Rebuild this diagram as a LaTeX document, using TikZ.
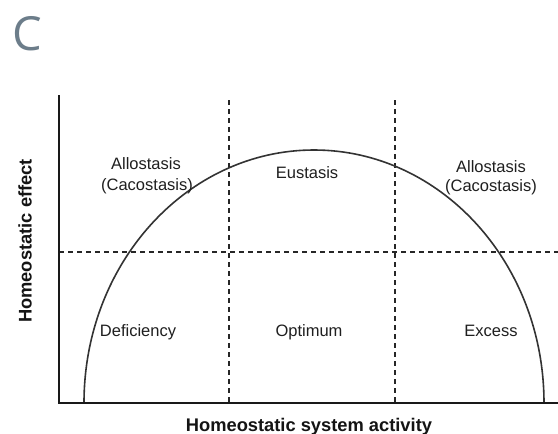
\documentclass[tikz,border=0pt]{standalone}
\usepackage{fontspec}
\setmainfont{Liberation Sans}
\newfontfamily\letterfont{Open Sans}
\begin{document}
\begin{tikzpicture}[x=1pt,y=-1pt,
  lbl/.style={anchor=base,inner sep=0pt,text=black!88,font=\fontsize{16.5}{20}\selectfont},
  axlbl/.style={anchor=base,inner sep=0pt,text=black!92,font=\fontsize{18.3}{22}\selectfont\bfseries},
  axisline/.style={line width=2.8pt,black!90},
  guide/.style={line width=1.4pt,black!85,dash pattern=on 5pt off 4pt},
  curveline/.style={line width=1.6pt,black!80}]
\useasboundingbox (0,0) rectangle (558,434);
\fill[white] (0,0) rectangle (558,434);
% panel letter
\node[anchor=base west,inner sep=0pt,text={rgb,255:red,108;green,125;blue,138},font=\fontsize{47}{50}\letterfont] (panel) at (12,50) {C};
% guides
\coordinate (v1t) at (229,100); \coordinate (v1b) at (229,403);
\coordinate (v2t) at (395,100); \coordinate (v2b) at (395,403);
\coordinate (hl) at (59,252); \coordinate (hr) at (558,252);
\draw[guide] (v1t) -- (v1b);
\draw[guide] (v2t) -- (v2b);
\draw[guide] (hl) -- (hr);
% curve
\draw[curveline] (84,403) arc[start angle=180,end angle=0,x radius=230pt,y radius=253pt];
% axes
\coordinate (ytop) at (59,95); \coordinate (orig) at (59,403); \coordinate (xend) at (558,403);
\draw[axisline] (ytop) -- (orig) -- (xend);
% labels
\node[lbl] (al1) at (146,169) {Allostasis};
\node[lbl] (ac1) at (147,190) {(Cacostasis)};
\node[lbl] (eu) at (307,178) {Eustasis};
\node[lbl] (al2) at (491,172) {Allostasis};
\node[lbl] (ac2) at (491,191.5) {(Cacostasis)};
\node[lbl] (def) at (138,336) {Deficiency};
\node[lbl] (opt) at (309,336) {Optimum};
\node[lbl] (exc) at (491,336) {Excess};
\node[axlbl] (xl) at (309,431) {Homeostatic system activity};
\node[axlbl,rotate=90] (yl) at (31.5,241) {Homeostatic effect};
\end{tikzpicture}
\end{document}
